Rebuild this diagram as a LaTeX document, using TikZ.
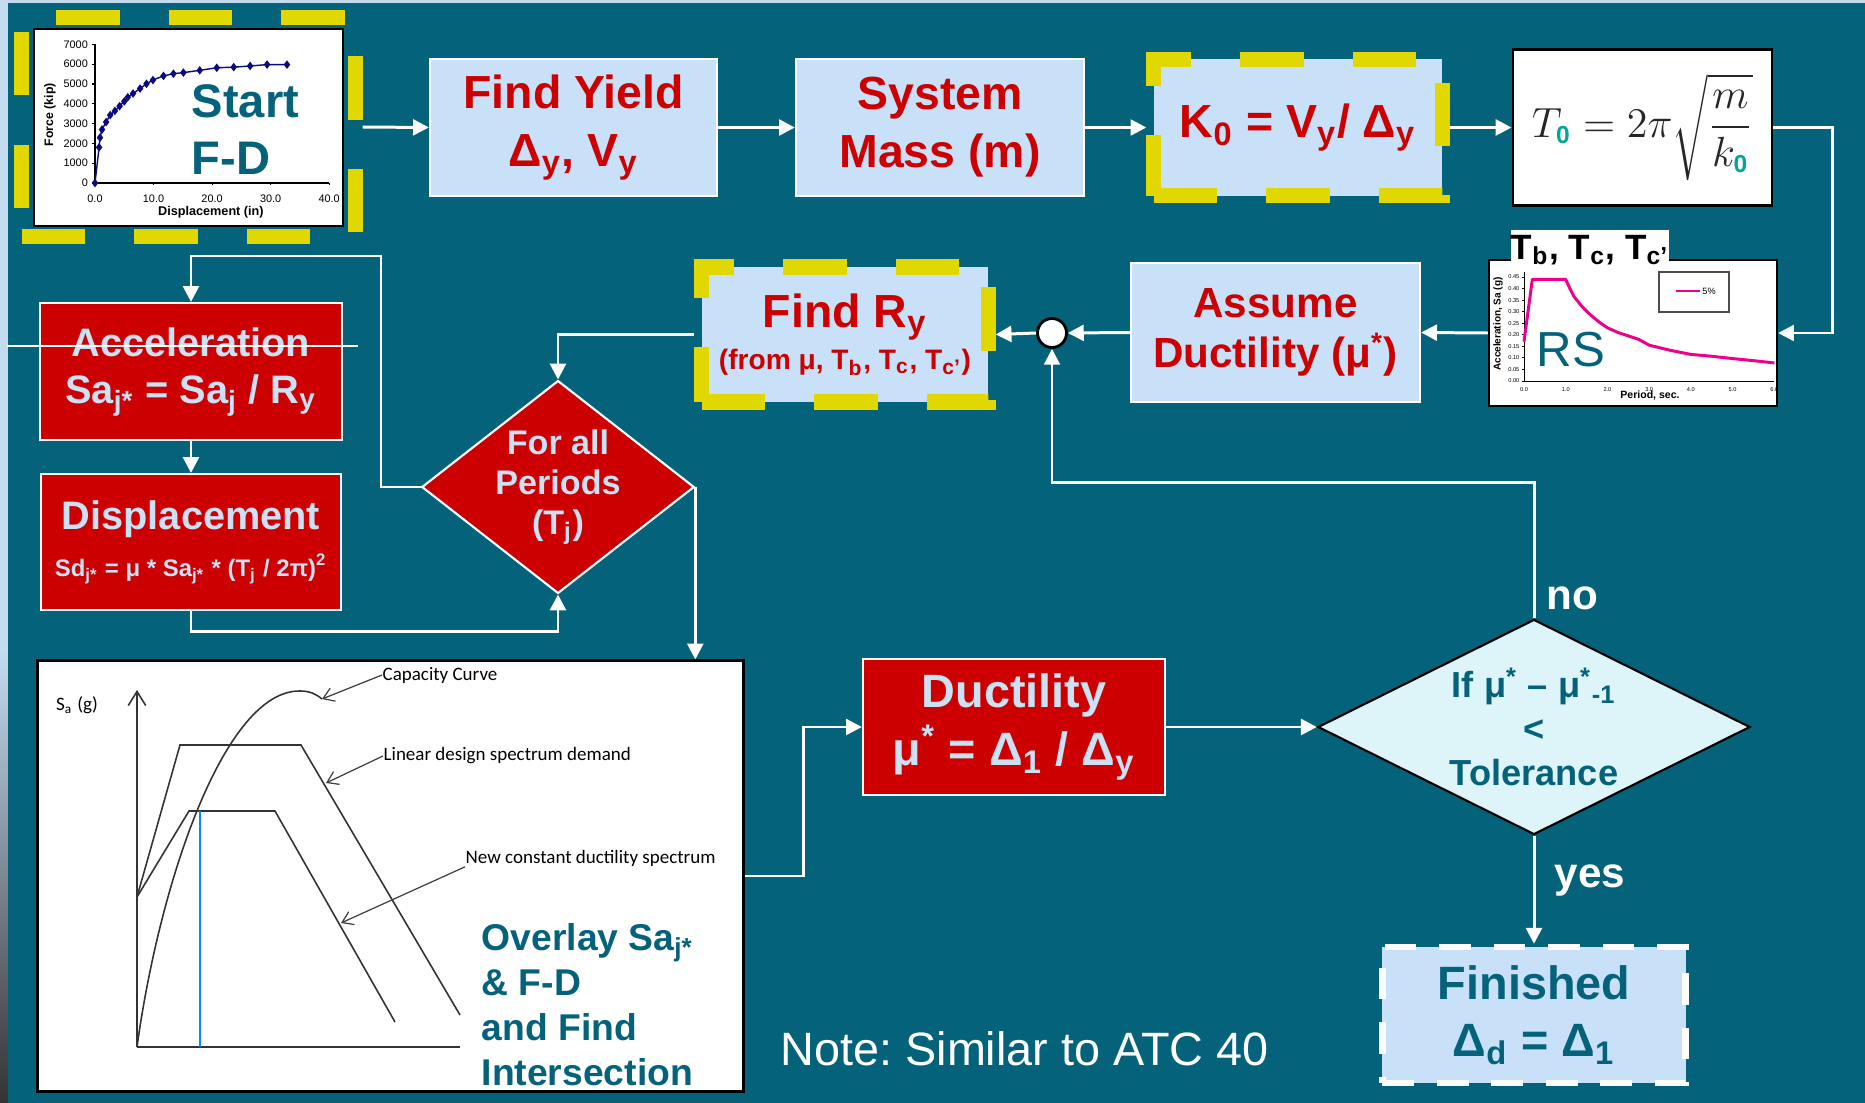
\documentclass[tikz,border=0pt]{standalone}
\usepackage{fontspec}
\setmainfont{Liberation Sans}
\newfontfamily\calibri{Carlito}
\usetikzlibrary{arrows.meta,shapes.geometric,plotmarks}
\frenchspacing

\definecolor{bgteal}{RGB}{4,98,122}
\definecolor{paleblue}{RGB}{200,225,248}
\definecolor{boxred}{RGB}{204,0,0}
\definecolor{inkblue}{RGB}{205,225,245}
\definecolor{tealtext}{RGB}{4,98,122}
\definecolor{markyellow}{RGB}{224,216,0}
\definecolor{tolcyan}{RGB}{221,244,248}
\definecolor{zerogreen}{RGB}{0,166,150}
\definecolor{fdnavy}{RGB}{10,10,130}
\definecolor{stripblue}{RGB}{197,220,240}

\newcommand{\fsz}[2]{\fontsize{#1}{#2}\selectfont}
\newcommand{\lo}[1]{\textsubscript{#1}}
\newcommand{\hi}[1]{\textsuperscript{#1}}
\newcommand{\zsub}{\mbox{\fsz{7}{7}\bfseries\color{zerogreen}0}}

\begin{document}
\begin{tikzpicture}[x=0.01cm, y=-0.01cm,
	bluebox/.style={rectangle, fill=paleblue, draw=white, line width=0.6pt, text=boxred,
		align=center, inner sep=0pt, font=\bfseries\fsz{13.2}{16.5}},
	redbox/.style={rectangle, fill=boxred, draw=white, line width=0.6pt, text=inkblue,
		align=center, inner sep=0pt, font=\bfseries\fsz{11.3}{13.4}},
	yframe/.style={draw=markyellow, line width=4.3pt, dash pattern=on 18pt off 14pt},
	flow/.style={draw=white, line width=0.85pt, -{Triangle[length=4.5pt,width=4.5pt]}},
	pointer/.style={draw=black!75, line width=0.35pt, -{Straight Barb[length=3pt,width=4pt]}},
	ticklbl/.style={font=\fsz{3.1}{3.5}, inner sep=0.5pt},
	rstick/.style={font=\fsz{1.6}{2}, inner sep=0.3pt},
	remark/.style={font=\calibri\fsz{5.4}{6.5}, inner sep=0pt, anchor=west}]
	\useasboundingbox (0,0) rectangle (1865,1103);
	
	% background and page edge
	\fill[bgteal] (0,0) rectangle (1865,1103);
	\fill[stripblue] (0,0) rectangle (8,650);
	\shade[top color=stripblue, bottom color=black!80] (0,650) rectangle (8,1103);
	\fill[stripblue] (0,0) rectangle (1865,3);
	
	% force-displacement curve
	\node[draw=black, line width=0.5pt, fill=white, minimum width=3.09cm, minimum height=1.97cm] (fd) at (188.5,127.5) {};
	\node[yframe, minimum width=3.33cm, minimum height=2.19cm] (fdframe) at (188.5,127) {};
	\begin{scope}[shift={(95,183)}, x=0.0585cm, y=0.0002057cm]
		\draw[line width=0.3pt] (0,7000) -- (0,0) -- (40,0);
		\foreach \f in {0,1000,...,7000} {
			\draw[line width=0.3pt] (0,\f) -- (-0.5,\f);
			\node[ticklbl, anchor=east] at (-0.8,\f) {\f};
		}
		\foreach \d in {0,10,20,30,40} {
			\draw[line width=0.3pt] (\d,0) -- (\d,-100);
			\node[ticklbl] at (\d,-800) {\d.0};
		}
		\node[font=\bfseries\fsz{3.6}{4}] at (19.8,-1460) {Displacement (in)};
		\node[font=\bfseries\fsz{3.5}{4}, rotate=90] at (-7.7,3450) {Force (kip)};
		\draw[fdnavy, line width=0.4pt, mark=diamond*, mark size=0.9pt] plot coordinates {
			(0,0) (0.7,1800) (0.85,2290) (1.2,2700) (1.9,3080) (2.6,3430) (3.4,3640)
			(4.2,3880) (5,4120) (5.6,4330) (6.5,4520) (7.7,4770) (8.8,5010) (9.9,5200)
			(11.7,5410) (13.4,5520) (15.1,5575) (17.9,5690) (20.8,5820) (23.7,5850)
			(26.5,5910) (29.4,5980) (32.8,5980)};
	\end{scope}
	\node[anchor=west, align=left, inner sep=0pt, text=tealtext, font=\bfseries\fsz{13.4}{16.2}] (fdlabel) at (191,130) {Start\\F-D};
	
	% top row
	\node[bluebox, minimum width=2.87cm, minimum height=1.37cm] (yield) at (573.5,127.5) {Find Yield\\Δ\lo{y}, V\lo{y}};
	\node[bluebox, minimum width=2.88cm, minimum height=1.37cm] (mass) at (940,127.5) {System\\Mass (m)};
	\node[bluebox, yframe, minimum width=2.88cm, minimum height=1.36cm] (kzero) at (1298,127.5) {K\lo{0} = V\lo{y}/ Δ\lo{y}};
	\node[draw=black, line width=0.8pt, fill=white, text=black!85, minimum width=2.59cm, minimum height=1.56cm, inner sep=0pt] (period) at (1642.5,127.5)
		{\fsz{13}{15}$\displaystyle T_{\zsub} = 2\pi\sqrt{\frac{m}{k_{\zsub}}}$};
	
	% response spectrum
	\node[draw=black, line width=0.6pt, fill=white, minimum width=2.88cm, minimum height=1.46cm] (rs) at (1633,333) {};
	\begin{scope}[shift={(1524,381)}, x=0.417cm, y=2.31cm]
		\draw[line width=0.25pt] (0,0.47) -- (0,0) -- (6,0);
		\foreach \v in {0.00,0.05,0.10,0.15,0.20,0.25,0.30,0.35,0.40,0.45} {
			\draw[line width=0.25pt] (0,\v) -- (-0.05,\v);
			\node[rstick, anchor=east] at (-0.07,\v) {\v};
		}
		\foreach \p in {0.0,1.0,2.0,3.0,4.0,5.0,6.0}
			\node[rstick] at (\p,-0.035) {\p};
		\draw[magenta, line width=0.85pt, line join=round] plot coordinates {
			(0,0.17) (0.2,0.44) (1.0,0.44) (1.1,0.40) (1.2,0.365) (1.4,0.32) (1.6,0.285)
			(1.8,0.255) (2.0,0.23) (2.25,0.21) (2.5,0.195) (2.75,0.18) (3.0,0.155)
			(3.5,0.133) (4.0,0.115) (4.5,0.107) (5.0,0.097) (5.5,0.088) (6.0,0.078)};
	\end{scope}
	\node[draw=black!70, line width=0.4pt, minimum width=0.70cm, minimum height=0.40cm] (legend) at (1694,292) {};
	\draw[magenta, line width=0.85pt] (1676,291) -- (1700,291);
	\node[font=\fsz{2.6}{3}, anchor=west, inner sep=0.5pt] (legendtxt) at (1700,291) {5\%};
	\node[font=\bfseries\fsz{3}{3.5}] (rsxlabel) at (1650,395) {Period, sec.};
	\node[font=\bfseries\fsz{2.85}{3.2}, rotate=90] (rsylabel) at (1498,324) {Acceleration, Sa (g)};
	\node[text=tealtext, font=\fsz{14}{16}] (rslabel) at (1571,350) {RS};
	\node[fill=white, minimum width=1.56cm, minimum height=0.40cm, inner sep=0pt, font=\bfseries\fsz{10}{12}] (tlabel) at (1590,250) {T\lo{b}, T\lo{c}, T\lo{c’}};
	
	% middle row
	\node[bluebox, yframe, minimum width=2.86cm, minimum height=1.35cm, font=\bfseries\fsz{13.2}{12}] (ry) at (845,334.5)
		{Find R\lo{y}\\{\fsz{8}{9.6}(from μ, T\lo{b}, T\lo{c}, T\lo{c’})}};
	\node[circle, draw=black, line width=0.8pt, fill=white, minimum size=0.29cm, inner sep=0pt] (sum) at (1052,333) {};
	\node[bluebox, minimum width=2.89cm, minimum height=1.39cm, font=\bfseries\fsz{12}{14.2}] (assume) at (1275.5,332.5) {Assume\\Ductility (μ\hi{*})};
	\node[redbox, minimum width=3.02cm, minimum height=1.37cm] (accel) at (191,371.5) {Acceleration\\Sa\lo{j*} = Sa\lo{j} / R\lo{y}};
	\draw[white, line width=0.3pt] (7,346) -- (358,346);
	\node[redbox, minimum width=3.00cm, minimum height=1.36cm] (disp) at (191,542)
		{Displacement\\{\fsz{6.8}{8}Sd\lo{j*} = μ * Sa\lo{j*} * (T\lo{j} / 2π)\hi{2}}};
	\node[redbox, diamond, shape aspect=1.28, minimum width=2.72cm, minimum height=2.12cm, font=\bfseries\fsz{9.7}{11.4}] (allper) at (558,487) {For all\\Periods\\(T\lo{j})};
	
	% capacity spectrum overlay
	\node[draw=black, line width=0.8pt, fill=white, minimum width=7.05cm, minimum height=4.30cm] (overlay) at (390.5,876) {};
	\begin{scope}[black!80, line width=0.45pt]
		\draw[-{Straight Barb[length=4pt,width=5pt]}] (137,1047) -- (137,690);
		\draw (137,1047) -- (460,1047);
		\draw (137,897) -- (180,745) -- (301,745) -- (460,1015);
		\draw (137,897) -- (189,811) -- (275,811) -- (395,1022);
		\draw (137,1047) .. controls (160,880) and (225,690) .. (300,691) .. controls (310,691) and (316,694) .. (322,699);
	\end{scope}
	\draw[blue!45!cyan, line width=0.4pt] (200,811) -- (200,1047);
	\coordinate (cappeak) at (322,699);
	\coordinate (linslope) at (326,783);
	\coordinate (ductslope) at (341,923);
	\node[remark, anchor=center] (salabel) at (77,705) {S\lo{a} (g)};
	\node[remark] (capcurve) at (382,675) {Capacity Curve};
	\node[remark] (lindemand) at (383,756) {Linear design spectrum demand};
	\node[remark] (ductspec) at (465,858) {New constant ductility spectrum};
	\draw[pointer] (capcurve.west) -- (cappeak);
	\draw[pointer] (lindemand.west) -- (linslope);
	\draw[pointer] (ductspec.south west) -- (ductslope);
	\node[anchor=west, align=left, inner sep=0pt, text=tealtext, font=\bfseries\fsz{10.6}{12.8}] (overlaytxt) at (481,1005)
		{Overlay Sa\lo{j*}\\\& F-D\\and Find\\Intersection};
	
	% bottom row
	\node[redbox, minimum width=3.02cm, minimum height=1.36cm, font=\bfseries\fsz{13.3}{16.5}] (duct) at (1014,727) {Ductility\\μ\hi{*} = Δ\lo{1} / Δ\lo{y}};
	\node[diamond, shape aspect=2, draw=black, line width=0.6pt, fill=tolcyan, text=tealtext, align=center, inner sep=0pt,
		minimum width=4.32cm, minimum height=2.15cm, font=\bfseries\fsz{10.3}{12.5}] (tol) at (1534,727) {If μ\hi{*} – μ\hi{*}\lo{-1}\\<\\Tolerance};
	\node[rectangle, fill=paleblue, draw=white, line width=1.8pt, dash pattern=on 9pt off 6.5pt, text=tealtext, align=center, inner sep=0pt,
		minimum width=3.03cm, minimum height=1.36cm, font=\bfseries\fsz{13.3}{16.2}] (done) at (1534,1015) {Finished\\Δ\lo{d} = Δ\lo{1}};
	\node[anchor=base west, inner sep=0pt, text=white, font=\bfseries\fsz{12}{14}] (nolabel) at (1546,609) {no};
	\node[anchor=base west, inner sep=0pt, text=white, font=\bfseries\fsz{12}{14}] (yeslabel) at (1554,887) {yes};
	\node[anchor=base west, inner sep=0pt, text=white, font=\fsz{13.3}{16}] (notelabel) at (780,1065) {Note: Similar to ATC 40};
	
	% connectors
	\draw[flow] (fdframe.east) -- (yield.west);
	\draw[flow] (yield) -- (mass);
	\draw[flow] (mass) -- (kzero);
	\draw[flow] (kzero) -- (period);
	\draw[flow] (period.east) -| ([xshift=5.4mm]rs.east) -- (rs.east);
	\draw[flow] (rs.west) -- (assume.east);
	\draw[flow] (assume.west) -- (sum.east);
	\draw[flow] (sum.west) -- (ry.east);
	\draw[flow] (ry.west) -| (allper.north);
	\draw[flow] (allper.west) -| (381,256) -| (accel.north);
	\draw[flow] (accel) -- (disp);
	\draw[flow] (disp.south) -- ++(0,20) -| (allper.south);
	\draw[flow] (allper.east) -- (allper.east |- overlay.north);
	\draw[flow] (overlay.east) -- ++(59,0) |- (duct.west);
	\draw[flow] (duct.east) -- (tol.west);
	\draw[flow] (tol.south) -- (done.north);
	\draw[flow] (tol.north) -- ++(0,-136) -| (sum.south);
\end{tikzpicture}
\end{document}
